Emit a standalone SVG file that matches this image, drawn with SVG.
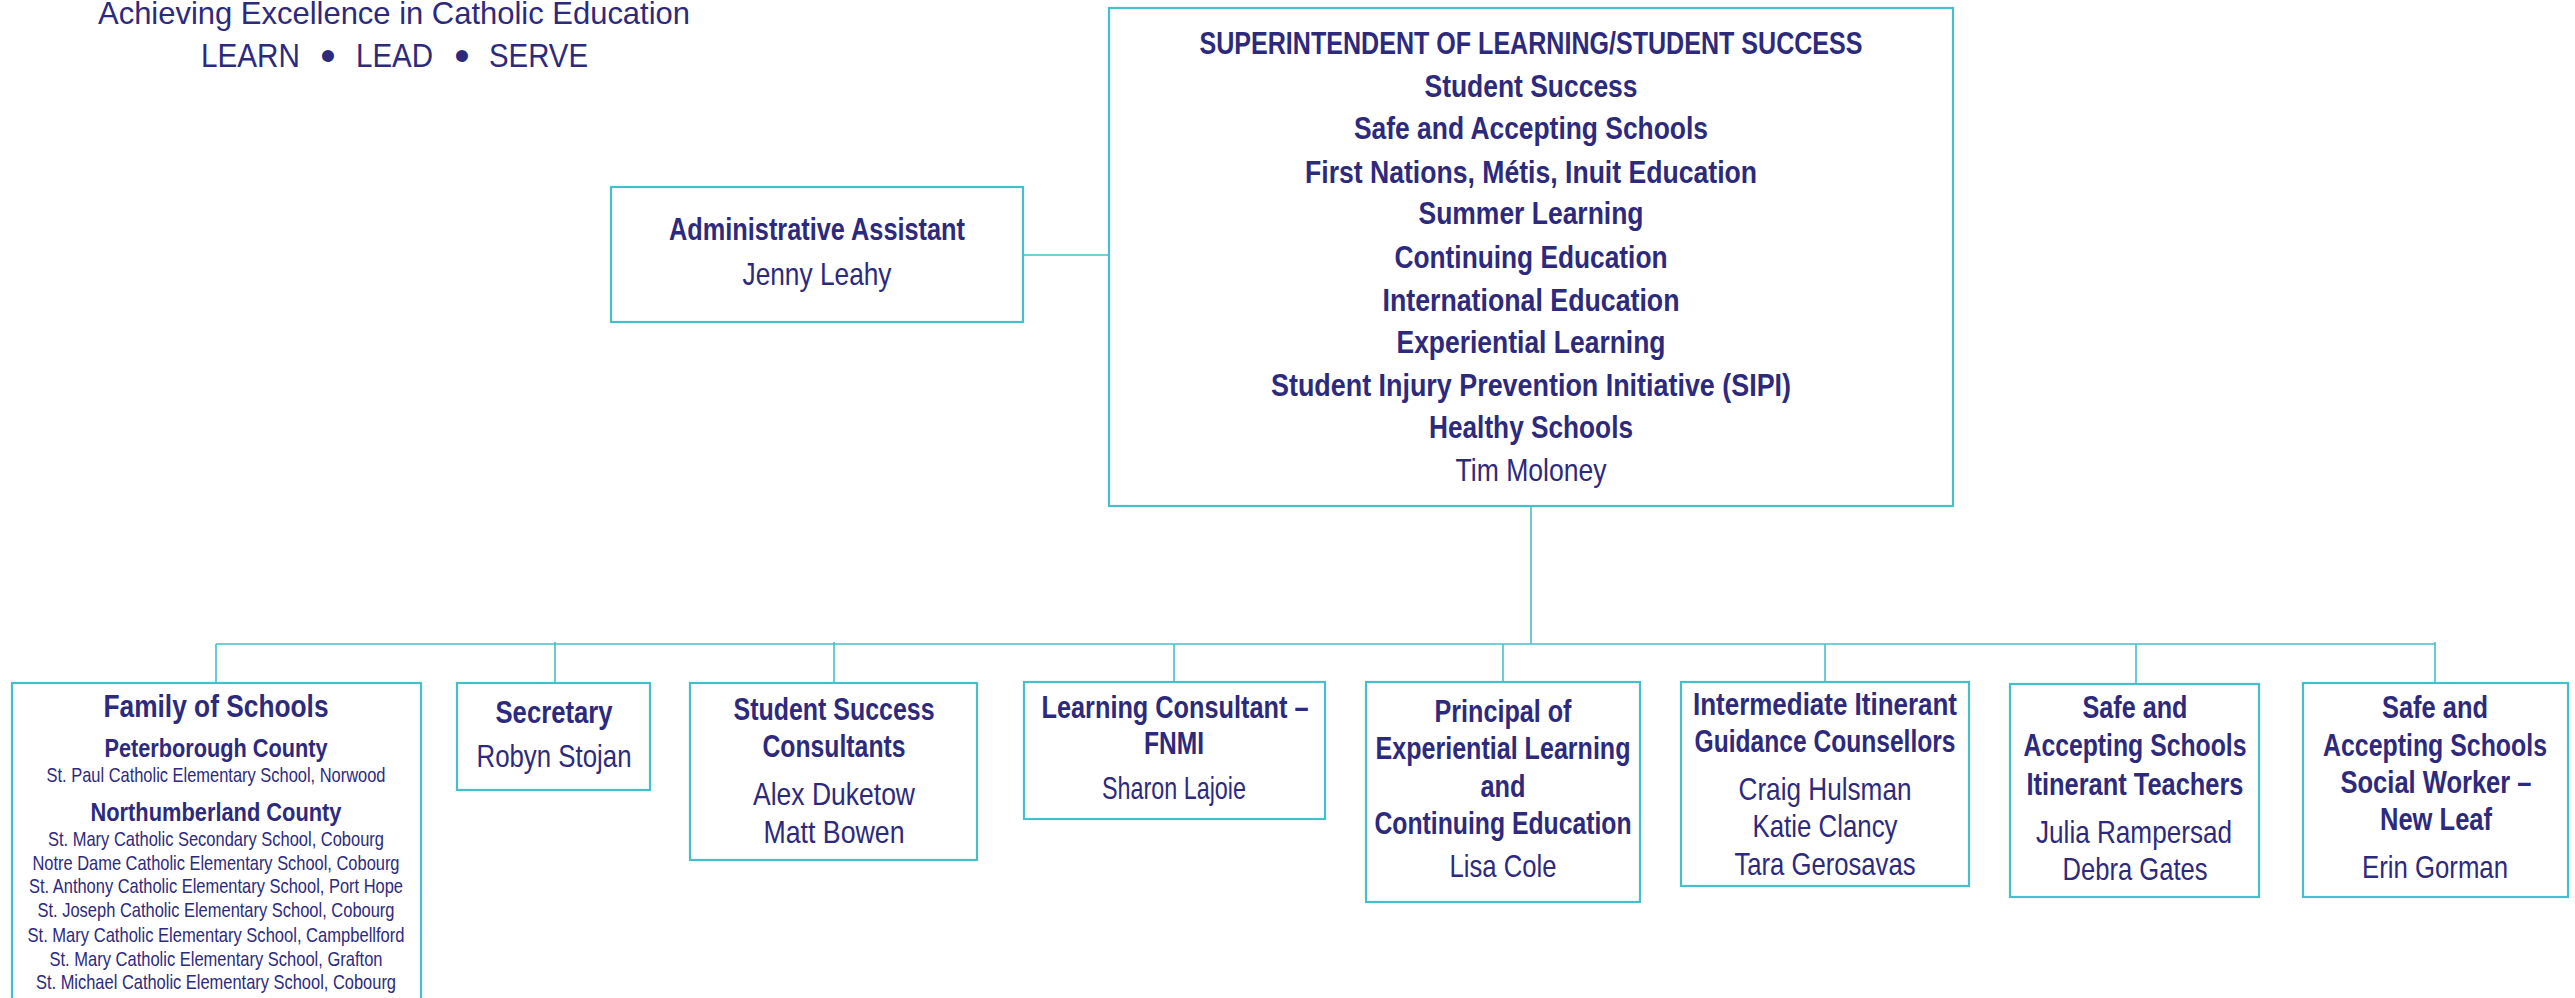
<svg xmlns="http://www.w3.org/2000/svg" width="2575" height="998" viewBox="0 0 2575 998">
<style>
text{font-family:"Liberation Sans",Arial,sans-serif;fill:#2d2a7d;text-anchor:middle}
.t{font-size:32px;font-weight:bold}
.n{font-size:32px}
.h{font-size:25px;font-weight:bold}
.s{font-size:21px}
.hd{font-size:32px;text-anchor:start}
.box{fill:#fff;stroke:#45bfcb;stroke-width:2.2}
.ln{stroke:#45bfcb;stroke-width:1.6;fill:none}
</style>
<rect width="2575" height="998" fill="#fff"/>
<g id="header">
<text class="hd" x="98" y="24" textLength="592" lengthAdjust="spacingAndGlyphs">Achieving Excellence in Catholic Education</text>
<text class="hd" y="67" style="font-size:33px"><tspan x="201" textLength="99" lengthAdjust="spacingAndGlyphs">LEARN</tspan><tspan x="328" y="71" style="text-anchor:middle;font-size:44px"> • </tspan><tspan x="356" y="67" textLength="77" lengthAdjust="spacingAndGlyphs">LEAD</tspan><tspan x="462" y="71" style="text-anchor:middle;font-size:44px"> • </tspan><tspan x="489" y="67" textLength="99" lengthAdjust="spacingAndGlyphs">SERVE</tspan></text>
</g>
<g id="connectors">
<line class="ln" x1="1023" y1="255" x2="1109" y2="255"/>
<line class="ln" x1="1531" y1="506" x2="1531" y2="644"/>
<line class="ln" x1="216" y1="644" x2="2435" y2="644"/>
<line class="ln" x1="216" y1="644" x2="216" y2="683"/>
<line class="ln" x1="555" y1="642" x2="555" y2="683"/>
<line class="ln" x1="834" y1="642" x2="834" y2="683"/>
<line class="ln" x1="1174" y1="644" x2="1174" y2="682"/>
<line class="ln" x1="1503" y1="644" x2="1503" y2="682"/>
<line class="ln" x1="1825" y1="644" x2="1825" y2="682"/>
<line class="ln" x1="2136" y1="644" x2="2136" y2="684"/>
<line class="ln" x1="2435" y1="642" x2="2435" y2="683"/>
</g>
<g id="admin">
<rect class="box" x="611" y="187" width="412" height="135"/>
<text class="t" x="817" y="240" textLength="296" lengthAdjust="spacingAndGlyphs">Administrative Assistant</text>
<text class="n" x="817" y="285" textLength="149" lengthAdjust="spacingAndGlyphs">Jenny Leahy</text>
</g>
<g id="superintendent">
<rect class="box" x="1109" y="8" width="844" height="498"/>
<text class="t" x="1531" y="54" textLength="663" lengthAdjust="spacingAndGlyphs">SUPERINTENDENT OF LEARNING/STUDENT SUCCESS</text>
<text class="t" x="1531" y="97" textLength="213" lengthAdjust="spacingAndGlyphs">Student Success</text>
<text class="t" x="1531" y="139" textLength="354" lengthAdjust="spacingAndGlyphs">Safe and Accepting Schools</text>
<text class="t" x="1531" y="183" textLength="452" lengthAdjust="spacingAndGlyphs">First Nations, Métis, Inuit Education</text>
<text class="t" x="1531" y="224" textLength="225" lengthAdjust="spacingAndGlyphs">Summer Learning</text>
<text class="t" x="1531" y="268" textLength="273" lengthAdjust="spacingAndGlyphs">Continuing Education</text>
<text class="t" x="1531" y="311" textLength="297" lengthAdjust="spacingAndGlyphs">International Education</text>
<text class="t" x="1531" y="353" textLength="269" lengthAdjust="spacingAndGlyphs">Experiential Learning</text>
<text class="t" x="1531" y="396" textLength="520" lengthAdjust="spacingAndGlyphs">Student Injury Prevention Initiative (SIPI)</text>
<text class="t" x="1531" y="438" textLength="204" lengthAdjust="spacingAndGlyphs">Healthy Schools</text>
<text class="n" x="1531" y="481" textLength="151" lengthAdjust="spacingAndGlyphs">Tim Moloney</text>
</g>
<g id="family">
<rect class="box" x="12" y="683" width="409" height="330"/>
<text class="t" x="216" y="717" textLength="225" lengthAdjust="spacingAndGlyphs">Family of Schools</text>
<text class="h" x="216" y="757" textLength="223" lengthAdjust="spacingAndGlyphs">Peterborough County</text>
<text class="s" x="216" y="782" textLength="339" lengthAdjust="spacingAndGlyphs">St. Paul Catholic Elementary School, Norwood</text>
<text class="h" x="216" y="821" textLength="251" lengthAdjust="spacingAndGlyphs">Northumberland County</text>
<text class="s" x="216" y="846" textLength="336" lengthAdjust="spacingAndGlyphs">St. Mary Catholic Secondary School, Cobourg</text>
<text class="s" x="216" y="870" textLength="367" lengthAdjust="spacingAndGlyphs">Notre Dame Catholic Elementary School, Cobourg</text>
<text class="s" x="216" y="893" textLength="374" lengthAdjust="spacingAndGlyphs">St. Anthony Catholic Elementary School, Port Hope</text>
<text class="s" x="216" y="917" textLength="357" lengthAdjust="spacingAndGlyphs">St. Joseph Catholic Elementary School, Cobourg</text>
<text class="s" x="216" y="942" textLength="377" lengthAdjust="spacingAndGlyphs">St. Mary Catholic Elementary School, Campbellford</text>
<text class="s" x="216" y="966" textLength="333" lengthAdjust="spacingAndGlyphs">St. Mary Catholic Elementary School, Grafton</text>
<text class="s" x="216" y="989" textLength="360" lengthAdjust="spacingAndGlyphs">St. Michael Catholic Elementary School, Cobourg</text>
</g>
<g id="secretary">
<rect class="box" x="457" y="683" width="193" height="107"/>
<text class="t" x="554" y="723" textLength="117" lengthAdjust="spacingAndGlyphs">Secretary</text>
<text class="n" x="554" y="767" textLength="155" lengthAdjust="spacingAndGlyphs">Robyn Stojan</text>
</g>
<g id="ssconsultants">
<rect class="box" x="690" y="683" width="287" height="177"/>
<text class="t" x="834" y="720" textLength="201" lengthAdjust="spacingAndGlyphs">Student Success</text>
<text class="t" x="834" y="757" textLength="143" lengthAdjust="spacingAndGlyphs">Consultants</text>
<text class="n" x="834" y="805" textLength="162" lengthAdjust="spacingAndGlyphs">Alex Duketow</text>
<text class="n" x="834" y="843" textLength="141" lengthAdjust="spacingAndGlyphs">Matt Bowen</text>
</g>
<g id="fnmi">
<rect class="box" x="1024" y="682" width="301" height="137"/>
<text class="t" x="1175" y="718" textLength="267" lengthAdjust="spacingAndGlyphs">Learning Consultant –</text>
<text class="t" x="1174" y="754" textLength="60" lengthAdjust="spacingAndGlyphs">FNMI</text>
<text class="n" x="1174" y="799" textLength="144" lengthAdjust="spacingAndGlyphs">Sharon Lajoie</text>
</g>
<g id="principal">
<rect class="box" x="1366" y="682" width="274" height="220"/>
<text class="t" x="1503" y="722" textLength="137" lengthAdjust="spacingAndGlyphs">Principal of</text>
<text class="t" x="1503" y="759" textLength="255" lengthAdjust="spacingAndGlyphs">Experiential Learning</text>
<text class="t" x="1503" y="797" textLength="45" lengthAdjust="spacingAndGlyphs">and</text>
<text class="t" x="1503" y="834" textLength="257" lengthAdjust="spacingAndGlyphs">Continuing Education</text>
<text class="n" x="1503" y="877" textLength="107" lengthAdjust="spacingAndGlyphs">Lisa Cole</text>
</g>
<g id="guidance">
<rect class="box" x="1681" y="682" width="288" height="204"/>
<text class="t" x="1825" y="715" textLength="264" lengthAdjust="spacingAndGlyphs">Intermediate Itinerant</text>
<text class="t" x="1825" y="752" textLength="261" lengthAdjust="spacingAndGlyphs">Guidance Counsellors</text>
<text class="n" x="1825" y="800" textLength="173" lengthAdjust="spacingAndGlyphs">Craig Hulsman</text>
<text class="n" x="1825" y="837" textLength="145" lengthAdjust="spacingAndGlyphs">Katie Clancy</text>
<text class="n" x="1825" y="875" textLength="181" lengthAdjust="spacingAndGlyphs">Tara Gerosavas</text>
</g>
<g id="itinerant">
<rect class="box" x="2010" y="684" width="249" height="213"/>
<text class="t" x="2135" y="718" textLength="105" lengthAdjust="spacingAndGlyphs">Safe and</text>
<text class="t" x="2135" y="756" textLength="223" lengthAdjust="spacingAndGlyphs">Accepting Schools</text>
<text class="t" x="2135" y="795" textLength="217" lengthAdjust="spacingAndGlyphs">Itinerant Teachers</text>
<text class="n" x="2134" y="843" textLength="196" lengthAdjust="spacingAndGlyphs">Julia Rampersad</text>
<text class="n" x="2135" y="880" textLength="145" lengthAdjust="spacingAndGlyphs">Debra Gates</text>
</g>
<g id="socialworker">
<rect class="box" x="2303" y="683" width="265" height="214"/>
<text class="t" x="2435" y="718" textLength="106" lengthAdjust="spacingAndGlyphs">Safe and</text>
<text class="t" x="2435" y="756" textLength="224" lengthAdjust="spacingAndGlyphs">Accepting Schools</text>
<text class="t" x="2436" y="793" textLength="191" lengthAdjust="spacingAndGlyphs">Social Worker –</text>
<text class="t" x="2436" y="830" textLength="112" lengthAdjust="spacingAndGlyphs">New Leaf</text>
<text class="n" x="2435" y="878" textLength="146" lengthAdjust="spacingAndGlyphs">Erin Gorman</text>
</g>
</svg>
